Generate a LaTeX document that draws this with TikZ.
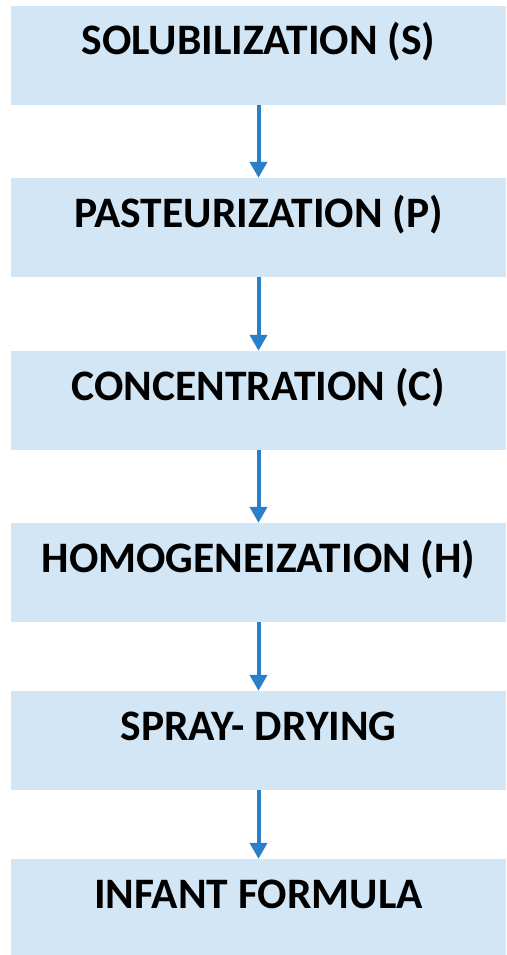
\documentclass[tikz,border=0pt]{standalone}
\usepackage{fontspec}
\setmainfont{Carlito}
\usetikzlibrary{arrows.meta}
\definecolor{boxblue}{RGB}{210,230,245}
\definecolor{arrowblue}{RGB}{42,128,200}
\begin{document}
\begin{tikzpicture}[x=1pt,y=-1pt,
  stage/.style={fill=boxblue,inner sep=0pt,minimum width=495pt,text height=49pt,text depth=50pt,
    font=\fontsize{43.5}{50}\selectfont\bfseries},
  flow/.style={draw=arrowblue,line width=4pt,-{Triangle[width=17pt,length=16pt]}}]
\useasboundingbox (0,0) rectangle (506,955);
\begin{scope}
\clip (0,0) rectangle (506,955);
\node[stage] (S) at (258.5,55.5){SOLUBILIZATION (S)};
\node[stage] (P) at (258.5,227.5){PASTEURIZATION (P)};
\node[stage] (C) at (258.5,400.5){CONCENTRATION (C)};
\node[stage] (H) at (258.5,572.5){HOMOGENEIZATION (H)};
\node[stage] (D) at (258.5,740.5){SPRAY- DRYING};
\node[stage] (F) at (258.5,908.5){INFANT FORMULA};
\end{scope}
\draw[flow] (S) -- (P);
\draw[flow] (P) -- (C);
\draw[flow] (C) -- (H);
\draw[flow] (H) -- (D);
\draw[flow] (D) -- (F);
\end{tikzpicture}
\end{document}
